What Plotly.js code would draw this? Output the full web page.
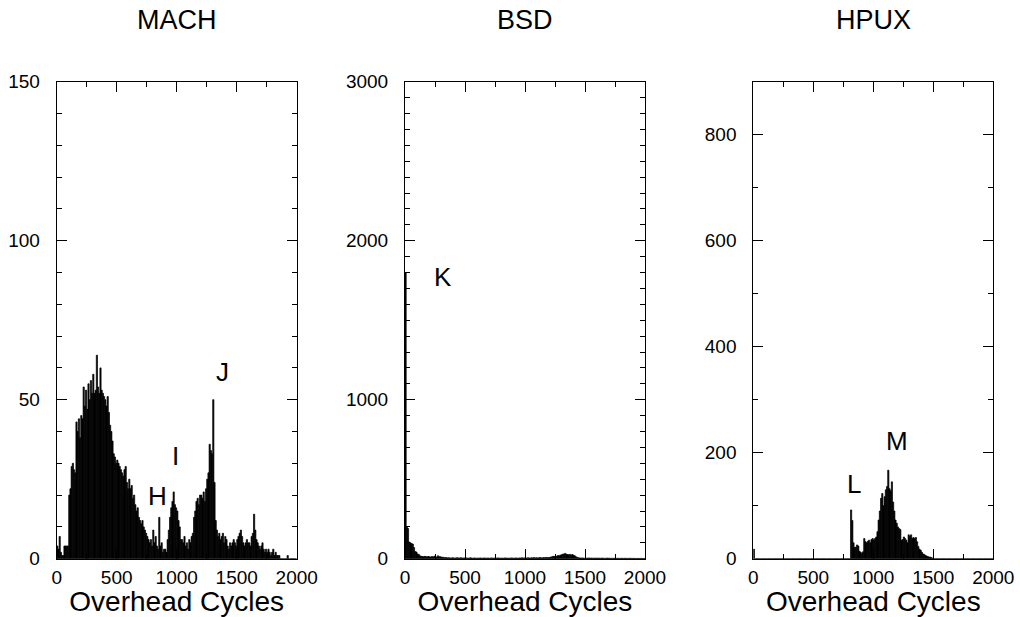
<!DOCTYPE html>
<html>
<head>
<meta charset="utf-8">
<script src="https://cdn.plot.ly/plotly-3.0.1.min.js"></script>
<style>html,body{margin:0;padding:0;background:#fff;}#chart{width:1020px;height:617px;}</style>
</head>
<body>
<div id="chart"></div>
<script>
// Histogram bins: 10 cycles wide, starting at 0
const binWidth = 10;
const panelTitles = ["MACH", "BSD", "HPUX"];
const xTickVals = [0, 500, 1000, 1500, 2000];

const machCounts = [
  4,3,7,2,1,1,4,4,4,4,
  20,22,29,30,28,27,43,40,44,38,
  45,44,54,48,53,47,55,50,56,52,
  58,52,53,64,54,52,60,53,52,51,
  50,48,51,46,42,40,37,33,32,30,
  31,30,29,28,27,26,28,29,24,22,
  25,22,23,19,20,17,15,16,13,12,
  11,12,10,9,8,7,6,5,6,4,
  9,5,7,4,3,13,4,5,2,3,
  3,2,6,9,13,16,18,21,17,16,
  15,12,10,6,6,5,7,4,5,3,
  6,5,7,8,13,15,18,19,17,20,
  20,19,21,18,22,25,27,36,34,33,
  50,24,12,9,7,8,6,7,8,5,
  7,6,4,3,5,4,5,6,5,4,
  6,7,8,9,7,5,4,5,6,5,
  5,4,7,8,14,9,6,5,4,3,
  4,5,3,2,3,2,3,2,1,2,
  3,1,2,1,1,1,0,0,0,0,
  0,0,1,0,0,0,0,0,0,0
];

const bsdCounts = [
  1800,200,190,105,100,95,92,70,45,42,
  30,27,18,15,14,12,15,13,12,14,
  12,10,14,11,16,12,10,18,13,12,
  10,9,8,6,7,5,6,5,4,6,
  5,4,5,6,5,4,6,5,4,5,
  4,5,3,4,6,4,3,5,4,3,
  4,3,5,4,3,4,5,3,4,4,
  3,4,5,3,4,3,4,5,4,3,
  4,3,4,5,4,3,4,3,5,4,
  3,4,5,4,3,5,4,6,4,5,
  5,4,6,5,4,6,5,7,5,6,
  5,6,7,6,5,7,6,8,7,6,
  8,10,12,15,14,12,16,20,18,22,
  25,28,30,33,28,26,25,27,24,26,
  22,18,12,8,6,5,4,5,4,3,
  4,3,4,5,3,4,3,4,3,4,
  3,4,3,3,4,3,2,3,4,3,
  3,2,3,2,3,3,2,3,2,2,
  3,2,2,3,2,2,2,3,2,2,
  2,2,1,2,2,1,2,2,1,2
];

const hpuxCounts = [
  18,0,0,0,0,0,0,0,0,0,
  0,0,0,0,0,0,0,0,0,0,
  0,0,0,0,0,0,0,0,0,0,
  0,0,0,0,0,0,0,0,0,0,
  0,0,0,0,0,0,0,0,0,0,
  0,0,0,0,0,0,0,0,0,0,
  0,0,0,0,0,0,0,0,0,0,
  0,0,0,0,0,0,0,0,0,0,
  0,92,72,30,21,22,26,24,14,12,
  10,13,38,32,30,33,35,30,36,38,
  35,38,41,51,73,90,114,123,100,117,
  130,136,167,132,128,145,107,90,73,67,
  60,57,55,35,36,41,38,35,30,45,
  42,45,38,40,38,40,32,23,18,16,
  12,9,8,6,5,4,3,3,2,1,
  0,0,0,0,0,0,0,0,0,0,
  0,0,0,0,0,0,0,0,0,0,
  0,0,0,0,0,0,0,0,0,0,
  0,0,0,0,0,0,0,0,0,0,
  0,0,0,0,0,0,0,0,0,0
];

const yRanges = [[0,150],[0,3000],[0,900]];
const yDticks = [50, 1000, 200];
const yMinor = [10, 100, 100];

// peak labels: [panel index, label, x (cycles), y (count)]
const peakLabels = [
  [0, "G", -108, 11.3],
  [0, "H", 840, 19.7],
  [0, "I", 992, 32.3],
  [0, "J", 1382, 58.7],
  [1, "K", 317, 1772],
  [2, "L", 839, 141],
  [2, "M", 1195, 222]
];

const FONT = "Liberation Sans, Arial, Helvetica, sans-serif";
const binCenters = machCounts.map((_, i) => i * binWidth + binWidth / 2);
const seriesList = [machCounts, bsdCounts, hpuxCounts];

const traces = seriesList.map((vals, k) => ({
  type: "bar",
  x: binCenters,
  y: vals,
  width: binWidth,
  xaxis: k === 0 ? "x" : "x" + (k + 1),
  yaxis: k === 0 ? "y" : "y" + (k + 1),
  marker: {color: "#000", line: {color: "#000", width: 0.7}},
  showlegend: false,
  hoverinfo: "x+y"
}));

const xDomains = [[56.7/1020, 296.7/1020], [405/1020, 645/1020], [753.3/1020, 993.3/1020]];
const yDomain = [(617-558.7)/617, (617-81.7)/617];

const layout = {
  width: 1020, height: 617,
  margin: {l: 0, r: 0, t: 0, b: 0},
  paper_bgcolor: "#fff", plot_bgcolor: "#fff",
  bargap: 0,
  font: {family: FONT, color: "#000", size: 19},
  annotations: []
};

for (let k = 0; k < 3; k++) {
  const xs = k === 0 ? "xaxis" : "xaxis" + (k + 1);
  const ys = k === 0 ? "yaxis" : "yaxis" + (k + 1);
  layout[xs] = {
    domain: xDomains[k], anchor: k === 0 ? "y" : "y" + (k + 1),
    range: [0, 2000], tickvals: xTickVals, ticktext: xTickVals.map(String),
    ticks: "inside", ticklen: 10, tickwidth: 1, tickcolor: "#000",
    minor: {dtick: 250, tick0: 0, ticks: "inside", ticklen: 5, tickwidth: 1, tickcolor: "#000"},
    showline: true, linecolor: "#000", linewidth: 1, mirror: "allticks",
    showgrid: false, zeroline: false, fixedrange: true,
    tickfont: {family: FONT, size: 19, color: "#000"},
    ticklabelstandoff: 1,
    title: {text: "Overhead Cycles", font: {family: FONT, size: 28, color: "#000"}, standoff: 5}
  };
  layout[ys] = {
    domain: yDomain, anchor: k === 0 ? "x" : "x" + (k + 1),
    range: yRanges[k], dtick: yDticks[k], tick0: 0,
    ticks: "inside", ticklen: 10, tickwidth: 1, tickcolor: "#000",
    minor: {dtick: yMinor[k], tick0: 0, ticks: "inside", ticklen: 5, tickwidth: 1, tickcolor: "#000"},
    showline: true, linecolor: "#000", linewidth: 1, mirror: "allticks",
    showgrid: false, zeroline: false, fixedrange: true,
    tickfont: {family: FONT, size: 19, color: "#000"},
    ticklabelstandoff: 12
  };
  layout.annotations.push({
    xref: "paper", yref: "paper",
    x: (xDomains[k][0] + xDomains[k][1]) / 2, y: (617 - 20) / 617,
    xanchor: "center", yanchor: "middle", showarrow: false,
    text: panelTitles[k], font: {family: FONT, size: 27, color: "#000"}
  });
}

peakLabels.forEach(([k, txt, xv, yv]) => {
  layout.annotations.push({
    xref: k === 0 ? "x" : "x" + (k + 1), yref: k === 0 ? "y" : "y" + (k + 1),
    x: xv, y: yv, xanchor: "center", yanchor: "middle", showarrow: false,
    text: txt, font: {family: FONT, size: 26, color: "#000"}
  });
});

Plotly.newPlot("chart", traces, layout, {staticPlot: true, displayModeBar: false});
</script>
</body>
</html>
